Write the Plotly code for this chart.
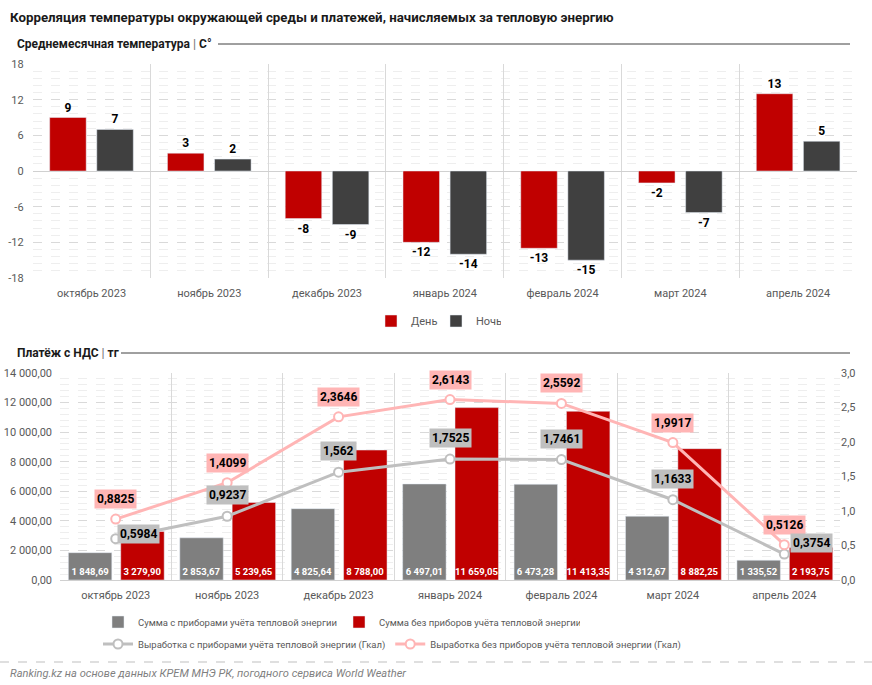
import plotly.graph_objects as go

# ---------------- data ----------------
months = ["октябрь 2023", "ноябрь 2023", "декабрь 2023", "январь 2024",
          "февраль 2024", "март 2024", "апрель 2024"]
temp_day = [9, 3, -8, -12, -13, -2, 13]
temp_night = [7, 2, -9, -14, -15, -7, 5]
temp_ticks = [-18, -12, -6, 0, 6, 12, 18]
temp_tick_labels = ["-18", "-12", "-6", "0", "6", "12", "18"]

sum_with_meters = [1848.69, 2853.67, 4825.64, 6497.01, 6473.28, 4312.67, 1335.52]
sum_without_meters = [3279.90, 5239.65, 8788.00, 11659.05, 11413.35, 8882.25, 2193.75]
gen_with_meters = [0.5984, 0.9237, 1.562, 1.7525, 1.7461, 1.1633, 0.3754]
gen_without_meters = [0.8825, 1.4099, 2.3646, 2.6143, 2.5592, 1.9917, 0.5126]

gen_with_labels = ["0,5984", "0,9237", "1,562", "1,7525", "1,7461", "1,1633", "0,3754"]
gen_without_labels = ["0,8825", "1,4099", "2,3646", "2,6143", "2,5592", "1,9917", "0,5126"]

# ---------------- style ----------------
W, H = 872, 685
FONT = "Roboto, Noto Sans, DejaVu Sans, sans-serif"
RED = "#C00000"
DARK = "#404040"
GRAY = "#7F7F7F"
PINK = "#FFB5B5"
LGRAY = "#BFBFBF"
AXT = "#595959"
GRID = "#D9D9D9"
MINOR = "#EEEEEE"


def px_x(p):
    return p / W


def px_y(p):
    return 1 - p / H


fig = go.Figure()

# ---- top chart: temperatures ----
fig.add_trace(go.Bar(
    x=months, y=temp_day, name="День", marker_color=RED,
    width=0.31, offset=-0.355,
    text=temp_day, texttemplate="%{text}", textposition="outside", cliponaxis=False,
    textfont=dict(size=12, color="#000000", family=FONT, weight="bold"),
    xaxis="x", yaxis="y", legend="legend2",
))
fig.add_trace(go.Bar(
    x=months, y=temp_night, name="Ночь", marker_color=DARK,
    width=0.31, offset=0.045,
    text=temp_night, texttemplate="%{text}", textposition="outside", cliponaxis=False,
    textfont=dict(size=12, color="#000000", family=FONT, weight="bold"),
    xaxis="x", yaxis="y", legend="legend2",
))

# ---- bottom chart: payments ----
fig.add_trace(go.Bar(
    x=months, y=sum_with_meters, name="Сумма с приборами учёта тепловой энергии",
    marker_color=GRAY, width=0.39, offset=-0.425,
    texttemplate="%{y:,.2f}", textposition="inside", insidetextanchor="start",
    textangle=0, constraintext="none",
    textfont=dict(size=9.5, color="#FFFFFF", family=FONT, weight="bold"),
    xaxis="x2", yaxis="y2", legend="legend",
))
fig.add_trace(go.Bar(
    x=months, y=sum_without_meters, name="Сумма без приборов учёта тепловой энергии",
    marker_color=RED, width=0.39, offset=0.045,
    texttemplate="%{y:,.2f}", textposition="inside", insidetextanchor="start",
    textangle=0, constraintext="none",
    textfont=dict(size=9.5, color="#FFFFFF", family=FONT, weight="bold"),
    xaxis="x2", yaxis="y2", legend="legend",
))
fig.add_trace(go.Scatter(
    x=months, y=gen_with_meters, name="Выработка с приборами учёта тепловой энергии (Гкал)",
    mode="lines+markers", line=dict(color=LGRAY, width=3),
    marker=dict(size=9, color="#FFFFFF", line=dict(color=LGRAY, width=2)),
    xaxis="x2", yaxis="y3", legend="legend3", cliponaxis=False,
))
fig.add_trace(go.Scatter(
    x=months, y=gen_without_meters, name="Выработка без приборов учёта тепловой энергии (Гкал)",
    mode="lines+markers", line=dict(color=PINK, width=3),
    marker=dict(size=9, color="#FFFFFF", line=dict(color=PINK, width=2)),
    xaxis="x2", yaxis="y3", legend="legend3", cliponaxis=False,
))

annotations = []
# point labels for the lines
for i, m in enumerate(months):
    annotations.append(dict(
        x=m, y=gen_without_meters[i], xref="x2", yref="y3",
        text=gen_without_labels[i], showarrow=False, yshift=20,
        bgcolor=PINK, borderpad=2,
        font=dict(size=12, color="#000000", family=FONT, weight="bold"),
    ))
    xs, ys = 0, 21
    if i == 0:
        xs, ys = 23, 5
    if i == len(months) - 1:
        xs, ys = 27, 11
    annotations.append(dict(
        x=m, y=gen_with_meters[i], xref="x2", yref="y3",
        text=gen_with_labels[i], showarrow=False, xshift=xs, yshift=ys,
        bgcolor=LGRAY, borderpad=2,
        font=dict(size=12, color="#000000", family=FONT, weight="bold"),
    ))

# titles / headers / footer
annotations += [
    dict(text="Корреляция температуры окружающей среды и платежей, начисляемых за тепловую энергию",
         x=px_x(8), y=px_y(18), xref="paper", yref="paper", xanchor="left", yanchor="middle",
         showarrow=False, font=dict(size=13.3, color="#1A1A1A", family=FONT, weight="bold")),
    dict(text="Среднемесячная температура <span style='color:#7F7F7F'>|</span> С°",
         x=px_x(15), y=px_y(44), xref="paper", yref="paper", xanchor="left", yanchor="middle",
         showarrow=False, font=dict(size=12, color="#1A1A1A", family=FONT, weight="bold")),
    dict(text="Платёж с НДС <span style='color:#7F7F7F'>|</span> тг",
         x=px_x(15), y=px_y(353), xref="paper", yref="paper", xanchor="left", yanchor="middle",
         showarrow=False, font=dict(size=12, color="#1A1A1A", family=FONT, weight="bold")),
    dict(text="<i>Ranking.kz на основе данных КРЕМ МНЭ РК, погодного сервиса World Weather</i>",
         x=px_x(8), y=px_y(673), xref="paper", yref="paper", xanchor="left", yanchor="middle",
         showarrow=False, font=dict(size=11.1, color="#7F7F7F", family=FONT)),
]

shapes = [
    dict(type="line", xref="paper", yref="paper", x0=px_x(218), x1=px_x(850),
         y0=px_y(44), y1=px_y(44), line=dict(color="#404040", width=1)),
    dict(type="line", xref="paper", yref="paper", x0=px_x(121), x1=px_x(850),
         y0=px_y(353), y1=px_y(353), line=dict(color="#404040", width=1)),
    dict(type="line", xref="paper", yref="paper", x0=0, x1=1,
         y0=px_y(662), y1=px_y(662), line=dict(color="#BFBFBF", width=1, dash="dash")),
]

xaxis_common = dict(
    type="category", tickson="boundaries", showgrid=True, gridcolor=GRID, gridwidth=1,
    ticks="", showline=False, zeroline=False, range=[-0.5, 6.5], ticklabelstandoff=7,
    tickfont=dict(size=11, color=AXT, family=FONT), fixedrange=True,
)

fig.update_layout(
    width=W, height=H,
    margin=dict(l=0, r=0, t=0, b=0, autoexpand=False),
    paper_bgcolor="#FFFFFF", plot_bgcolor="#FFFFFF",
    separators=", ",
    font=dict(family=FONT, color=AXT),
    barmode="group",
    showlegend=True,
    xaxis=dict(domain=[px_x(32.6), px_x(857)], anchor="y", **xaxis_common),
    yaxis=dict(domain=[px_y(278), px_y(64)], anchor="x", range=[-18, 18],
               tickvals=temp_ticks, ticktext=temp_tick_labels, ticklabelstandoff=8,
               showgrid=True, gridcolor=GRID, griddash="dash", ticks="",
               minor=dict(dtick=1.2, tick0=0, showgrid=True, gridcolor=MINOR),
               zeroline=True, zerolinecolor="#D0D0D0", zerolinewidth=1,
               tickfont=dict(size=11, color=AXT, family=FONT)),
    xaxis2=dict(domain=[px_x(60), px_x(840)], anchor="y2", **xaxis_common),
    yaxis2=dict(domain=[px_y(580), px_y(373)], anchor="x2", range=[0, 14000], dtick=2000, tick0=0,
                tickformat=",.2f", showgrid=True, gridcolor=GRID, griddash="dash", ticks="",
                ticklabelstandoff=7,
                minor=dict(dtick=400, tick0=0, showgrid=True, gridcolor=MINOR),
                zeroline=True, zerolinecolor="#D0D0D0", zerolinewidth=1,
                tickfont=dict(size=11, color=AXT, family=FONT)),
    yaxis3=dict(overlaying="y2", side="right", anchor="x2", range=[0, 3], dtick=0.5,
                tickformat=".1f", showgrid=False, zeroline=False, ticks="",
                tickfont=dict(size=11, color=AXT, family=FONT)),
    legend2=dict(orientation="h", x=px_x(436), xanchor="center", y=px_y(321), yanchor="middle",
                 font=dict(size=11, color=AXT, family=FONT), bgcolor="rgba(0,0,0,0)",
                 itemwidth=30, entrywidth=20),
    legend=dict(orientation="h", x=px_x(98), xanchor="left", y=px_y(622), yanchor="middle",
                font=dict(size=9.5, color=AXT, family=FONT), entrywidth=196,
                bgcolor="rgba(0,0,0,0)"),
    legend3=dict(orientation="h", x=px_x(98), xanchor="left", y=px_y(644), yanchor="middle",
                 font=dict(size=9.5, color=AXT, family=FONT),
                 bgcolor="rgba(0,0,0,0)"),
    annotations=annotations,
    shapes=shapes,
)

fig.write_html("out.html", config={"displayModeBar": False},
               post_script="document.body.style.margin='0';")
